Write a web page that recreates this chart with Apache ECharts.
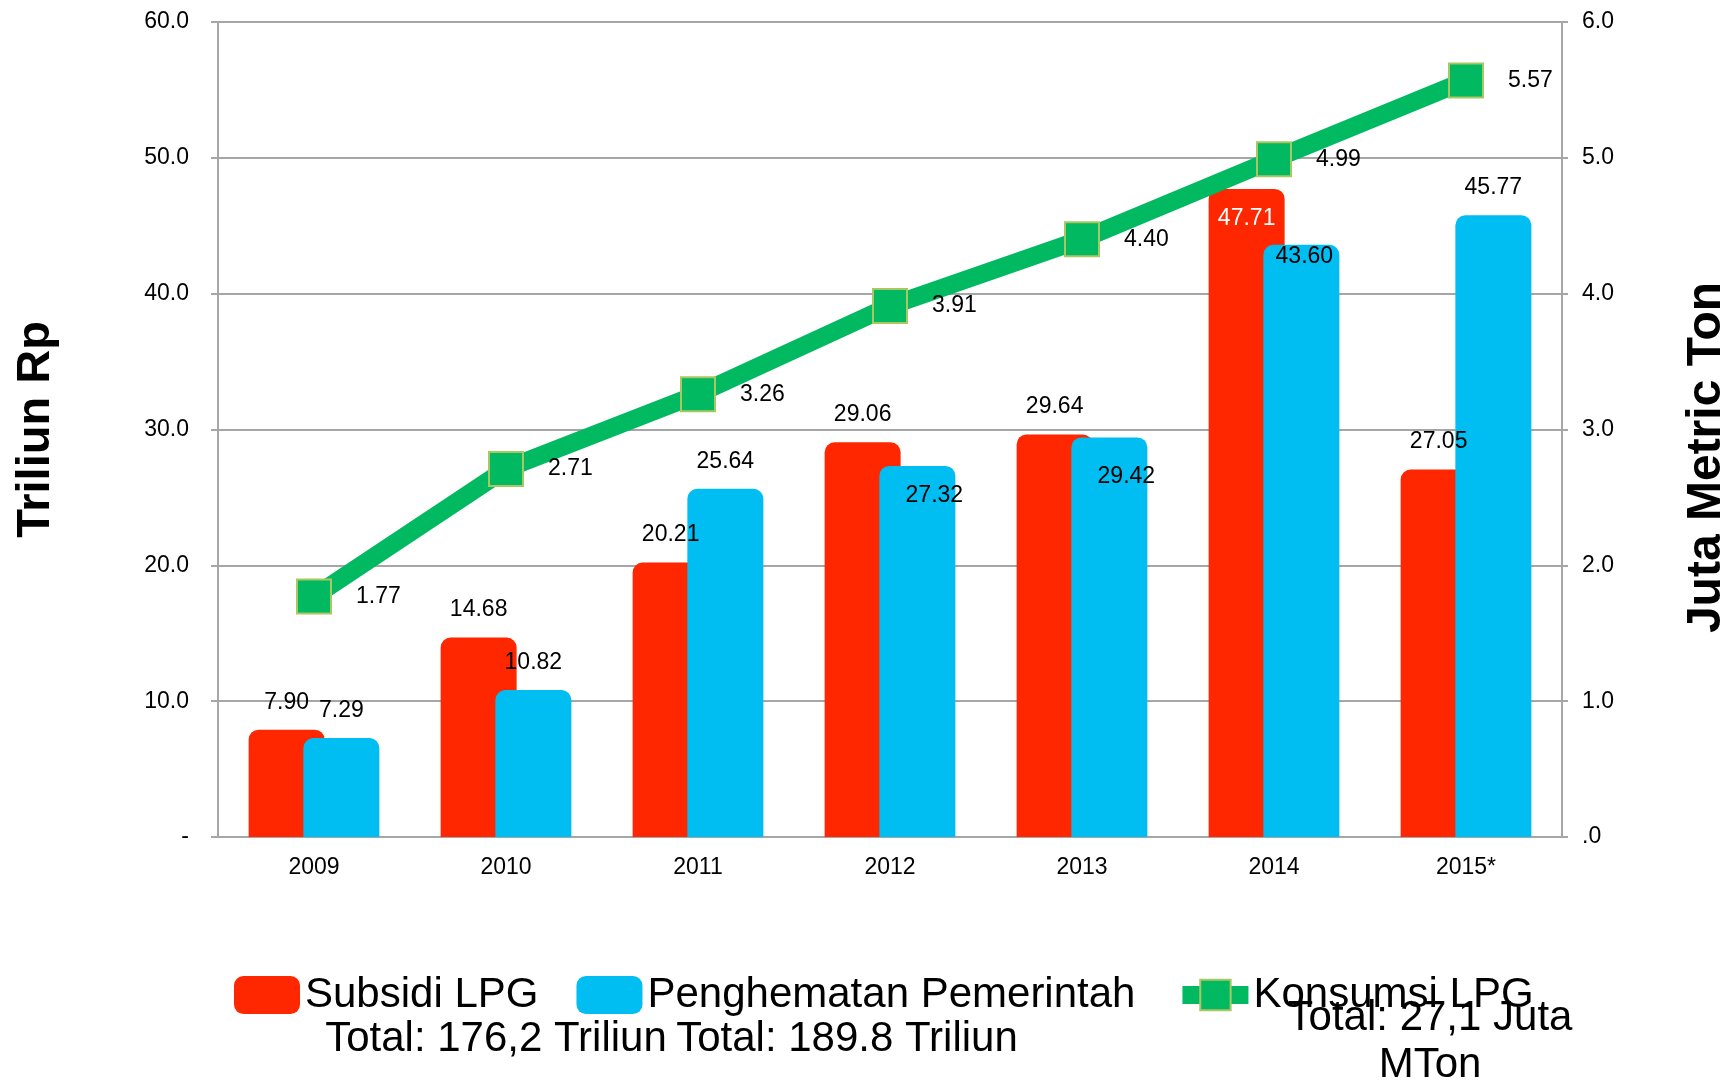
<!DOCTYPE html>
<html>
<head>
<meta charset="utf-8">
<title>Subsidi LPG</title>
<script src="https://cdn.jsdelivr.net/npm/echarts@6/dist/echarts.min.js"></script>
<style>
    html, body { margin: 0; padding: 0; background: #fff; overflow: hidden; }
    #chartBox { width: 1727px; height: 1084px; }
</style>
</head>
<body>
<div id="chartBox"></div>
<script>
var years = ['2009', '2010', '2011', '2012', '2013', '2014', '2015*'];
var subsidi = [7.90, 14.68, 20.21, 29.06, 29.64, 47.71, 27.05];
var penghematan = [7.29, 10.82, 25.64, 27.32, 29.42, 43.60, 45.77];
var konsumsi = [1.77, 2.71, 3.26, 3.91, 4.40, 4.99, 5.57];
var leftTicks = ['-', '10.0', '20.0', '30.0', '40.0', '50.0', '60.0'];
var rightTicks = ['.0', '1.0', '2.0', '3.0', '4.0', '5.0', '6.0'];
var names = ['Subsidi LPG', 'Penghematan Pemerintah', 'Konsumsi LPG'];
var totals = ['Total: 176,2 Triliun', 'Total: 189.8 Triliun', 'Total: 27,1 Juta\nMTon'];

var font = 'Liberation Sans, Arial, sans-serif';
var colors = ['#ff2700', '#00bdf2', '#00b960'];

// labels that sit inside the bar instead of on top: [dx, dy, color]
var subsidiInside = { 5: [0, 18, '#fff'] };
var hematInside = { 3: [17, 18], 4: [17, 28], 5: [3, 0] };

function barData(values, inside) {
    return values.map(function (v, i) {
        var t = inside[i];
        if (!t) return v;
        return {
            value: v,
            label: {
                position: 'insideTop',
                distance: 0,
                offset: [t[0], t[1]],
                color: t[2] || '#000'
            }
        };
    });
}

var myChart = echarts.init(document.getElementById('chartBox'));

var barLabel = {
    show: true,
    position: 'top',
    distance: 16,
    color: '#000',
    fontFamily: font,
    fontSize: 23,
    formatter: function (p) { return p.value.toFixed(2); }
};

var option = {
    animation: false,
    color: colors,
    grid: { left: 218, right: 165, top: 22, bottom: 247, outerBoundsMode: 'none' },
    legend: {
        data: [
            { name: names[0], icon: 'roundRect' },
            { name: names[1], icon: 'roundRect' },
            { name: names[2], lineStyle: { width: 18, cap: 'butt' } }
        ],
        left: 229,
        top: 969,
        itemWidth: 66,
        itemHeight: 38,
        itemGap: 38,
        textStyle: { color: '#000', fontFamily: font, fontSize: 42 }
    },
    xAxis: {
        type: 'category',
        data: years,
        axisLine: { lineStyle: { color: '#a6a6a6', width: 2 } },
        axisTick: { show: false },
        axisLabel: { color: '#000', fontFamily: font, fontSize: 23, margin: 19 }
    },
    yAxis: [
        {
            type: 'value',
            min: 0,
            max: 60,
            interval: 10,
            name: 'Triliun Rp',
            nameLocation: 'middle',
            nameGap: 158,
            nameTextStyle: { color: '#000', fontFamily: font, fontSize: 47, fontWeight: 'bold' },
            axisLine: { show: true, lineStyle: { color: '#a6a6a6', width: 2 } },
            axisTick: { show: true, length: 7, lineStyle: { color: '#a6a6a6', width: 2 } },
            splitLine: { lineStyle: { color: '#a6a6a6', width: 2 } },
            axisLabel: {
                color: '#000', fontFamily: font, fontSize: 23, margin: 29,
                formatter: function (v) { return leftTicks[Math.round(v / 10)]; }
            }
        },
        {
            type: 'value',
            min: 0,
            max: 6,
            interval: 1,
            position: 'right',
            name: 'Juta Metric Ton',
            nameLocation: 'middle',
            nameRotate: 90,
            nameGap: 121,
            nameTextStyle: {
                color: '#000', fontFamily: font, fontSize: 48, fontWeight: 'bold',
                padding: [0, 56, 0, 0]
            },
            axisLine: { show: true, lineStyle: { color: '#a6a6a6', width: 2 } },
            axisTick: { show: true, length: 6, lineStyle: { color: '#a6a6a6', width: 2 } },
            splitLine: { show: false },
            axisLabel: {
                color: '#000', fontFamily: font, fontSize: 23, margin: 20,
                formatter: function (v) { return rightTicks[Math.round(v)]; }
            }
        }
    ],
    series: [
        {
            name: names[0],
            type: 'bar',
            barWidth: 76,
            barGap: '-28%',
            itemStyle: { color: colors[0], borderRadius: [10, 10, 0, 0] },
            label: barLabel,
            data: barData(subsidi, subsidiInside)
        },
        {
            name: names[1],
            type: 'bar',
            barWidth: 76,
            barGap: '-28%',
            itemStyle: { color: colors[1], borderRadius: [10, 10, 0, 0] },
            label: barLabel,
            data: barData(penghematan, hematInside)
        },
        {
            name: names[2],
            type: 'line',
            yAxisIndex: 1,
            symbol: 'rect',
            symbolSize: 34,
            lineStyle: { color: colors[2], width: 18 },
            itemStyle: { color: colors[2], borderColor: '#a9c862', borderWidth: 2 },
            label: {
                show: true,
                position: 'right',
                distance: 24,
                color: '#000',
                fontFamily: font,
                fontSize: 23,
                formatter: function (p) { return p.value.toFixed(2); }
            },
            data: konsumsi
        }
    ],
    graphic: [
        {
            type: 'text',
            style: { text: totals[0], x: 496, y: 1039, align: 'center', verticalAlign: 'middle',
                     fill: '#000', font: '42px ' + font }
        },
        {
            type: 'text',
            style: { text: totals[1], x: 847, y: 1039, align: 'center', verticalAlign: 'middle',
                     fill: '#000', font: '42px ' + font }
        },
        {
            type: 'text',
            style: { text: totals[2], x: 1430, y: 1042, align: 'center', verticalAlign: 'middle',
                     lineHeight: 47, fill: '#000', font: '42px ' + font }
        }
    ]
};

myChart.setOption(option);
</script>
</body>
</html>
